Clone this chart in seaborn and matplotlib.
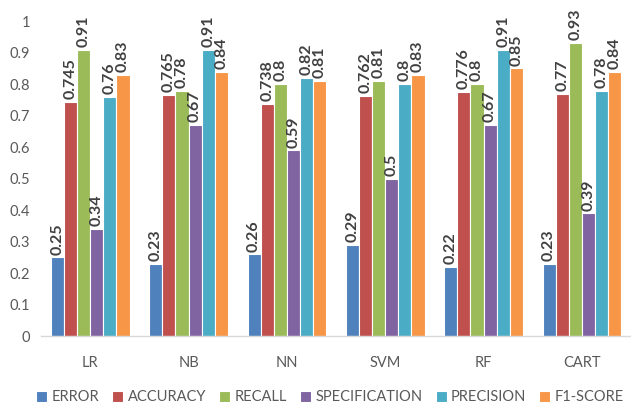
import pandas as pd
import matplotlib
matplotlib.use("Agg")
import matplotlib.pyplot as plt
import seaborn as sns

models = ["LR", "NB", "NN", "SVM", "RF", "CART"]
metrics = ["ERROR", "ACCURACY", "RECALL", "SPECIFICATION", "PRECISION", "F1-SCORE"]

error = [0.25, 0.23, 0.26, 0.29, 0.22, 0.23]
accuracy = [0.745, 0.765, 0.738, 0.762, 0.776, 0.77]
recall = [0.91, 0.78, 0.8, 0.81, 0.8, 0.93]
specification = [0.34, 0.67, 0.59, 0.5, 0.67, 0.39]
precision = [0.76, 0.91, 0.82, 0.8, 0.91, 0.78]
f1_score = [0.83, 0.84, 0.81, 0.83, 0.85, 0.84]

colors = ["#4F81BD", "#C0504D", "#9BBB59", "#8064A2", "#4BACC6", "#F79646"]

rows = []
for metric, vals in zip(metrics, [error, accuracy, recall, specification, precision, f1_score]):
    for m, v in zip(models, vals):
        rows.append({"model": m, "metric": metric, "value": v})
df = pd.DataFrame(rows)

sns.set_theme(style="white")
plt.rcParams["font.family"] = ["Lato", "DejaVu Sans"]

fig = plt.figure(figsize=(6.31, 4.08), dpi=100)
ax = fig.add_axes([0.065, 0.176, 0.935, 0.772])

sns.barplot(data=df, x="model", y="value", hue="metric", order=models,
            hue_order=metrics, palette=colors, width=0.8, saturation=1,
            edgecolor="white", linewidth=0.8, ax=ax)

for cont in ax.containers:
    ax.bar_label(cont, fmt="{:g}", rotation=90, padding=2, fontsize=11.5,
                 fontweight="bold", color="#404040", clip_on=False)

ax.set_ylim(0, 1)
ax.set_yticks([i / 10 for i in range(11)])
ax.set_yticklabels(["0"] + [f"0.{i}" for i in range(1, 10)] + ["1"])
ax.set_xlabel("")
ax.set_ylabel("")
ax.tick_params(axis="y", labelsize=10.5, labelcolor="#595959", length=0, pad=8)
ax.tick_params(axis="x", labelsize=10.5, labelcolor="#595959", length=0, pad=14)
for s in ["top", "right", "left"]:
    ax.spines[s].set_visible(False)
ax.spines["bottom"].set_color("#D9D9D9")
ax.spines["bottom"].set_linewidth(1)

ax.legend(loc="upper center", bbox_to_anchor=(0.49, -0.13), ncol=6,
          frameon=False, fontsize=10.5, handlelength=0.75, handleheight=0.75,
          handletextpad=0.3, columnspacing=0.9, labelcolor="#595959")

fig.savefig("out.png", dpi=100)
